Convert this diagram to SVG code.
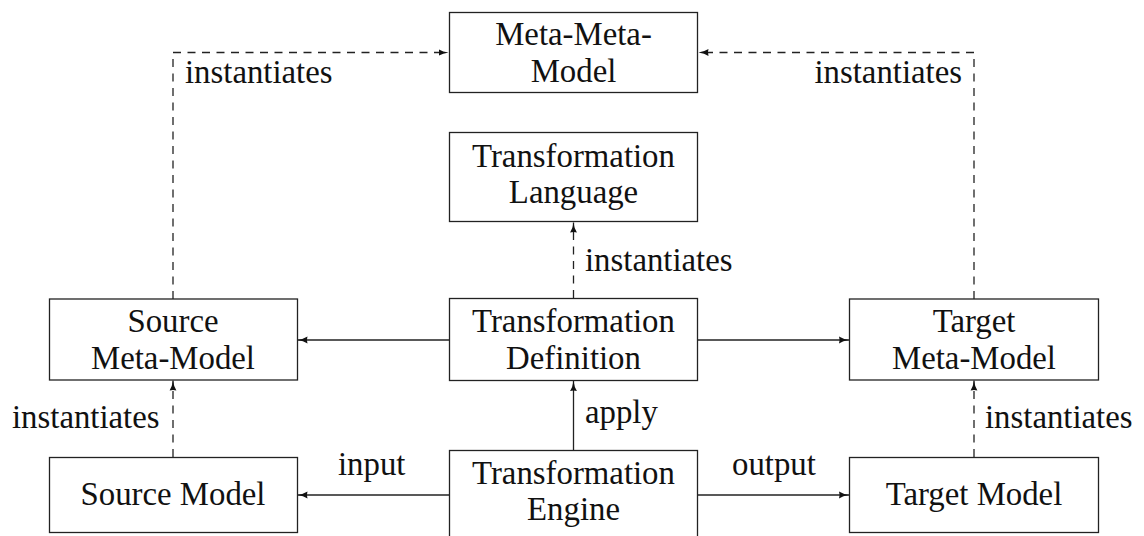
<svg xmlns="http://www.w3.org/2000/svg" width="1144" height="536" viewBox="0 0 1144 536">
<style>
.box{fill:#fff;stroke:#222;stroke-width:1.3}
.t{font-family:"Liberation Serif","Times New Roman",serif;font-size:32.8px;fill:#111}
.c{text-anchor:middle}
.ln{fill:none;stroke:#222;stroke-width:1.3}
.d{stroke-dasharray:8 6.5}
</style>
<defs>
<marker id="ah" markerUnits="userSpaceOnUse" markerWidth="12" markerHeight="10" viewBox="0 0 12 10" refX="10" refY="5" orient="auto">
<path d="M0,1.6 Q4,4.2 10,5 Q4,5.8 0,8.4 Q1.2,5 0,1.6 z" fill="#111"/>
</marker>
</defs>
<rect width="1144" height="536" fill="#fff"/>
<g id="connectors">
<path class="ln d" d="M173,299 V52.5 H448.5" marker-end="url(#ah)"/>
<path class="ln d" d="M974,299 V52.5 H698.5" marker-end="url(#ah)"/>
<path class="ln d" d="M573.5,298 V222.5" marker-end="url(#ah)"/>
<path class="ln" d="M449,340 H297.5" marker-end="url(#ah)"/>
<path class="ln" d="M698,340 H849" marker-end="url(#ah)"/>
<path class="ln" d="M573.5,450 V381" marker-end="url(#ah)"/>
<path class="ln d" d="M173,457 V380.5" marker-end="url(#ah)"/>
<path class="ln d" d="M974,457 V380.5" marker-end="url(#ah)"/>
<path class="ln" d="M449,495 H297.5" marker-end="url(#ah)"/>
<path class="ln" d="M698,495 H849" marker-end="url(#ah)"/>
<text class="t" x="185" y="83">instantiates</text>
<text class="t" x="962" y="83" text-anchor="end">instantiates</text>
<text class="t" x="585" y="271">instantiates</text>
<text class="t" x="12" y="428">instantiates</text>
<text class="t" x="985" y="428">instantiates</text>
<text class="t" x="585" y="423">apply</text>
<text class="t" x="338" y="475">input</text>
<text class="t" x="732" y="475">output</text>
</g>
<g id="meta-meta-model">
<rect class="box" x="449.5" y="12.5" width="248" height="80"/>
<text class="t c" x="573.5" y="45">Meta-Meta-</text>
<text class="t c" x="573.5" y="81.5">Model</text>
</g>
<g id="transformation-language">
<rect class="box" x="449.5" y="132.5" width="248" height="89"/>
<text class="t c" x="573.5" y="166.5">Transformation</text>
<text class="t c" x="573.5" y="203">Language</text>
</g>
<g id="source-meta-model">
<rect class="box" x="49.5" y="299" width="248" height="81"/>
<text class="t c" x="173" y="332">Source</text>
<text class="t c" x="173" y="368.5">Meta-Model</text>
</g>
<g id="transformation-definition">
<rect class="box" x="449.5" y="298.5" width="248" height="82"/>
<text class="t c" x="573.5" y="332">Transformation</text>
<text class="t c" x="573.5" y="368.5">Definition</text>
</g>
<g id="target-meta-model">
<rect class="box" x="849.5" y="299" width="249" height="81"/>
<text class="t c" x="974" y="332">Target</text>
<text class="t c" x="974" y="368.5">Meta-Model</text>
</g>
<g id="source-model">
<rect class="box" x="49.5" y="457.5" width="248" height="75"/>
<text class="t c" x="173" y="505">Source Model</text>
</g>
<g id="transformation-engine">
<rect class="box" x="449.5" y="450.5" width="248" height="89"/>
<text class="t c" x="573.5" y="483.5">Transformation</text>
<text class="t c" x="573.5" y="520">Engine</text>
</g>
<g id="target-model">
<rect class="box" x="849.5" y="457.5" width="249" height="75"/>
<text class="t c" x="974" y="505">Target Model</text>
</g>
</svg>
